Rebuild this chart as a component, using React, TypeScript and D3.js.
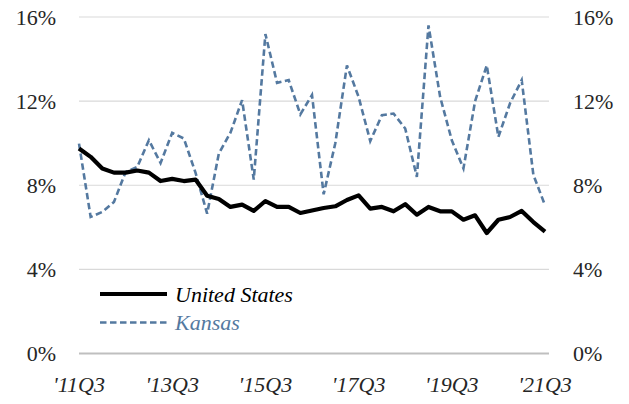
import { useEffect, useRef } from "react";
import * as d3 from "d3";

// quarters from '11Q3 to '21Q3
const quarters = [
  "'11Q3", "'11Q4", "'12Q1", "'12Q2", "'12Q3", "'12Q4", "'13Q1", "'13Q2",
  "'13Q3", "'13Q4", "'14Q1", "'14Q2", "'14Q3", "'14Q4", "'15Q1", "'15Q2",
  "'15Q3", "'15Q4", "'16Q1", "'16Q2", "'16Q3", "'16Q4", "'17Q1", "'17Q2",
  "'17Q3", "'17Q4", "'18Q1", "'18Q2", "'18Q3", "'18Q4", "'19Q1", "'19Q2",
  "'19Q3", "'19Q4", "'20Q1", "'20Q2", "'20Q3", "'20Q4", "'21Q1", "'21Q2",
  "'21Q3",
];

const unitedStates = [
  9.75, 9.35, 8.8, 8.6, 8.6, 8.7, 8.6, 8.2, 8.3, 8.2, 8.27, 7.5, 7.35, 6.97,
  7.08, 6.78, 7.25, 6.97, 6.97, 6.68, 6.8, 6.92, 7.0, 7.3, 7.52, 6.89, 6.97,
  6.76, 7.1, 6.6, 6.97, 6.76, 6.76, 6.36, 6.57, 5.73, 6.36, 6.49, 6.78, 6.25,
  5.8,
];

const kansas = [
  9.98, 6.49, 6.73, 7.2, 8.63, 8.87, 10.14, 9.06, 10.49, 10.22, 8.6, 6.65, 9.5,
  10.5, 12.05, 8.27, 15.19, 12.87, 13.0, 11.37, 12.29, 7.57, 10.0, 13.7, 12.2,
  10.1, 11.33, 11.41, 10.7, 8.4, 15.6, 12.2, 10.14, 8.8, 12.0, 13.7, 10.3,
  11.9, 13.0, 8.5, 7.05,
];

const yTicks = [0, 4, 8, 12, 16];
const xTickLabels = ["'11Q3", "'13Q3", "'15Q3", "'17Q3", "'19Q3", "'21Q3"];

const seriesNames = ["United States", "Kansas"];

const width = 629;
const height = 404;
const blue = "#5479a0";

const App = () => {
  const svgRef = useRef<SVGSVGElement>(null);

  useEffect(() => {
    const svg = d3.select(svgRef.current);
    svg.selectAll("*").remove();

    const margin = { top: 17, right: 80, bottom: 50.5, left: 79 };
    const plotRight = width - margin.right;

    const x = d3
      .scalePoint<string>()
      .domain(quarters)
      .range([margin.left, plotRight - 4]);

    const y = d3
      .scaleLinear()
      .domain([0, 16])
      .range([height - margin.bottom, margin.top]);

    const font = "Liberation Serif, Times New Roman, DejaVu Serif, Noto Serif, serif";

    // gridlines
    svg
      .append("g")
      .selectAll("line")
      .data(yTicks)
      .enter()
      .append("line")
      .attr("x1", margin.left)
      .attr("x2", plotRight)
      .attr("y1", (d) => y(d))
      .attr("y2", (d) => y(d))
      .attr("stroke", (d) => (d === 0 ? "#bfbfbf" : "#d9d9d9"))
      .attr("stroke-width", (d) => (d === 0 ? 2 : 1.2));

    // left axis labels
    svg
      .append("g")
      .selectAll("text")
      .data(yTicks)
      .enter()
      .append("text")
      .attr("x", 56)
      .attr("y", (d) => y(d))
      .attr("dy", "0.35em")
      .attr("text-anchor", "end")
      .style("font-family", font)
      .attr("font-size", 22)
      .attr("fill", "#262626")
      .text((d) => `${d}%`);

    // right axis labels
    svg
      .append("g")
      .selectAll("text")
      .data(yTicks)
      .enter()
      .append("text")
      .attr("x", 573)
      .attr("y", (d) => y(d))
      .attr("dy", "0.35em")
      .attr("text-anchor", "start")
      .style("font-family", font)
      .attr("font-size", 22)
      .attr("fill", "#262626")
      .text((d) => `${d}%`);

    // x axis labels
    svg
      .append("g")
      .selectAll("text")
      .data(xTickLabels)
      .enter()
      .append("text")
      .attr("x", (d) => x(d)!)
      .attr("y", 392)
      .attr("text-anchor", "middle")
      .style("font-family", font)
      .attr("font-style", "italic")
      .attr("font-size", 22)
      .attr("fill", "#262626")
      .text((d) => d);

    const line = d3
      .line<number>()
      .x((_, i) => x(quarters[i])!)
      .y((d) => y(d));

    // Kansas
    svg
      .append("path")
      .datum(kansas)
      .attr("d", line)
      .attr("fill", "none")
      .attr("stroke", blue)
      .attr("stroke-width", 2.6)
      .attr("stroke-dasharray", "6.5,3.5");

    // United States
    svg
      .append("path")
      .datum(unitedStates)
      .attr("d", line)
      .attr("fill", "none")
      .attr("stroke", "#000")
      .attr("stroke-width", 4.2)
      .attr("stroke-linejoin", "round");

    // legend
    const legend = svg.append("g");
    const legendRows = [
      { name: seriesNames[0], y: 294, color: "#000", width: 4.2, dash: null, text: "#000" },
      { name: seriesNames[1], y: 322.5, color: blue, width: 2.6, dash: "6.5,3.5", text: blue },
    ];
    legendRows.forEach((r) => {
      legend
        .append("line")
        .attr("x1", 100)
        .attr("x2", 167)
        .attr("y1", r.y)
        .attr("y2", r.y)
        .attr("stroke", r.color)
        .attr("stroke-width", r.width)
        .attr("stroke-dasharray", r.dash);
      legend
        .append("text")
        .attr("x", 175)
        .attr("y", r.y)
        .attr("dy", "0.35em")
        .style("font-family", font)
        .attr("font-style", "italic")
        .attr("font-size", 22)
        .attr("fill", r.text)
        .text(r.name);
    });
  }, []);

  return (
    <svg
      ref={svgRef}
      width={width}
      height={height}
      style={{ position: "absolute", left: 0, top: 0, background: "#fff" }}
    ></svg>
  );
};

export default App;
